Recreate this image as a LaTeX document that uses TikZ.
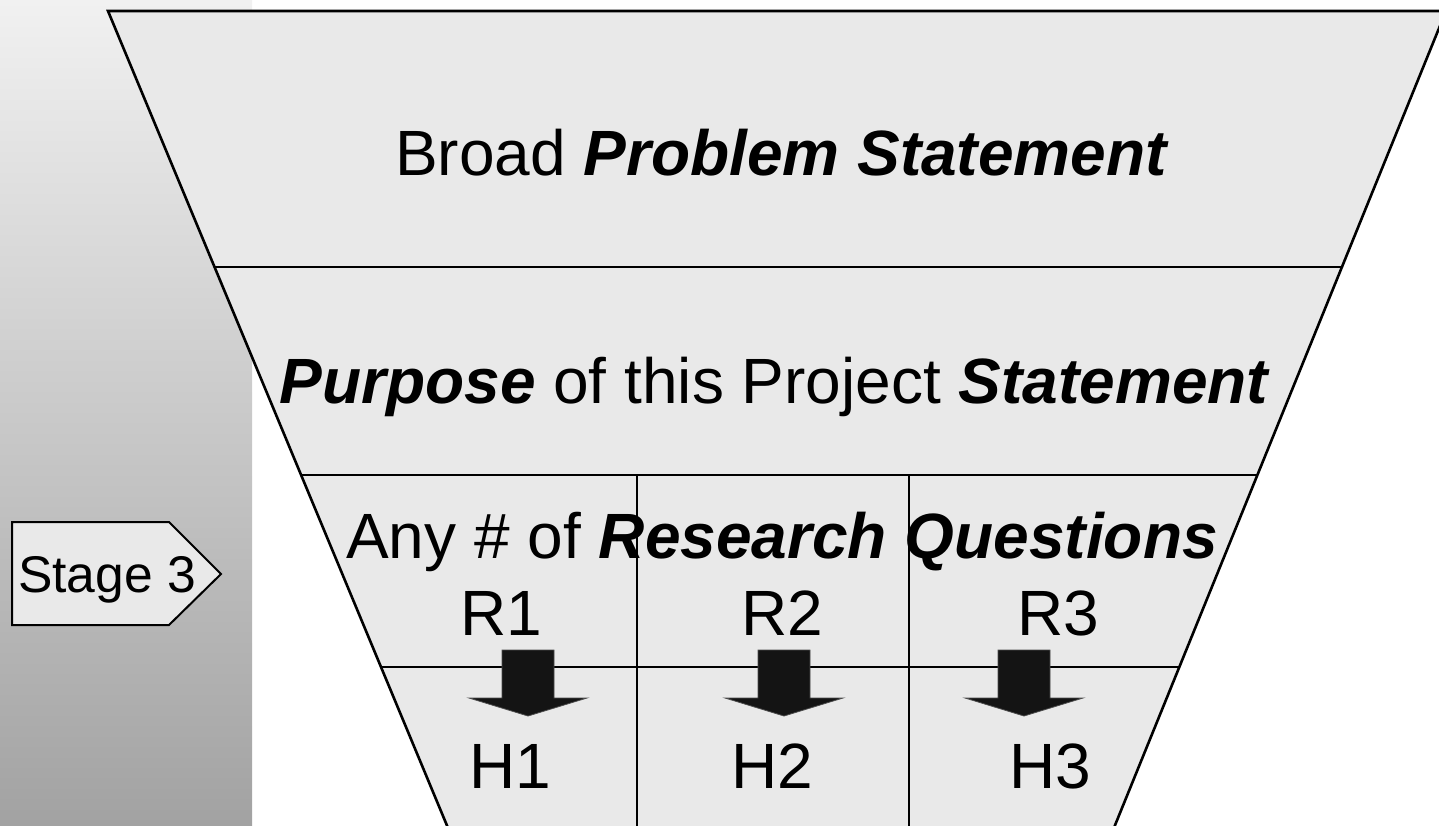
\documentclass[tikz,border=0pt]{standalone}
\usepackage{fontspec}
\setmainfont{Liberation Sans}
\usetikzlibrary{positioning}
\definecolor{paper}{RGB}{233,233,233}
\definecolor{bandtop}{RGB}{241,241,241}
\definecolor{bandbot}{RGB}{162,162,162}
\definecolor{ink}{RGB}{20,20,20}
\tikzset{
  rim/.style={draw=black,line width=1.3pt},
  split/.style={draw=black,line width=1pt},
  tier/.style={font=\fontsize{32}{38}\selectfont,anchor=base,inner sep=0pt},
  stagetext/.style={font=\fontsize{25.8}{30}\selectfont,anchor=base,inner sep=0pt},
  % block arrow R -> H
  pics/drop/.style={code={
    \filldraw[fill=ink,draw=black!70,line width=0.4pt] (-26,0) -- (26,0) -- (26,48) -- (59,48)
      -- (0,66) -- (-59,48) -- (-26,48) -- cycle;
  }},
}

\begin{document}
\begin{tikzpicture}[x=0.5pt,y=-0.5pt]
  \useasboundingbox (0,0) rectangle (1439,825);
  % side band
  \shade[top color=bandtop,bottom color=bandbot] (0,0) rectangle (252,825);

  % funnel
  \coordinate (tl) at (108,11);
  \coordinate (tr) at (1446,11);
  \coordinate (br) at (1109,840);
  \coordinate (bl) at (453,840);
  \fill[paper] (tl) -- (tr) -- (br) -- (bl) -- cycle;
  \begin{scope}
    \clip (tl) -- (tr) -- (br) -- (bl) -- cycle;
    \draw[split] (0,267) -- (1439,267) (0,475) -- (1439,475) (0,667) -- (1439,667);
    \draw[split] (637,475) -- (637,840) (909,475) -- (909,840);
  \end{scope}
  \draw[rim] (bl) -- (tl) -- (tr) -- (br);

  \node[tier] (problem) at (782,175) {Broad \textbf{\textit{Problem Statement}}};
  \node[tier] (purpose) at (775,403) {\textbf{\textit{Purpose}} of this Project \textbf{\textit{Statement}}};
  \node[tier] (questions) at (782,558) {Any \# of \textbf{\textit{Research Questions}}};

  \foreach \i/\rx/\hx/\ax in {1/501/510/528, 2/782/772/784, 3/1058/1050/1024} {
    \node[tier] (r\i) at (\rx,635) {R\i};
    \node[tier] (h\i) at (\hx,788) {H\i};
    \pic at (\ax,650) {drop};
  }

  % stage tag
  \filldraw[fill=paper,draw=black,line width=1pt] (12,522) -- (169,522) -- (221,574)
    -- (169,625) -- (12,625) -- cycle;
  \node[stagetext] (stage) at (107,592) {Stage 3};
\end{tikzpicture}
\end{document}
